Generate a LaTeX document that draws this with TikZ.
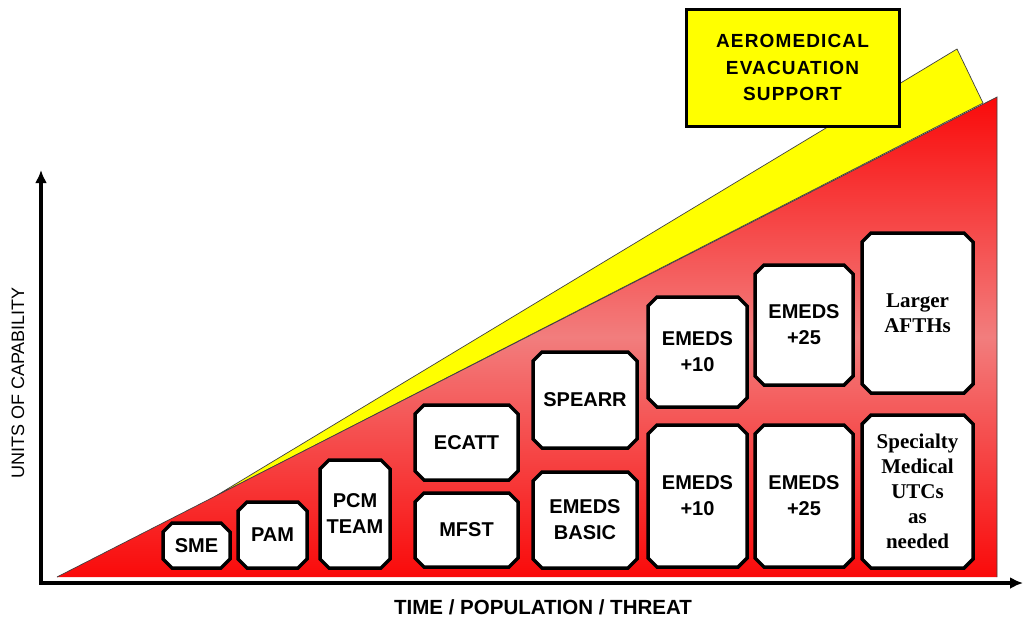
\documentclass[tikz,border=0pt]{standalone}
\usepackage{fontspec}
\setmainfont{Liberation Sans}
\newfontfamily\unitserif{Liberation Serif}
\usetikzlibrary{arrows.meta}

\pgfdeclarelayer{wedges}
\pgfdeclarelayer{plates}
\pgfsetlayers{wedges,plates,main}

% A capability unit: an invisible text node of given extent, with a
% chamfered white plate drawn behind it.
% #1 style, #2 name, #3 x1, #4 y1, #5 x2, #6 y2, #7 text
\newcommand\unitbox[7][unit]{%
  \node[#1, minimum width={#5pt-#3pt}, minimum height={#6pt-#4pt}] (#2)
    at ({(#3+#5)/2},{(#4+#6)/2}) {#7};
  \begin{pgfonlayer}{plates}
    \draw[plate] ([xshift=9pt]#2.north west) -- ([xshift=-9pt]#2.north east)
      -- ([yshift=-9pt]#2.north east) -- ([yshift=9pt]#2.south east)
      -- ([xshift=-9pt]#2.south east) -- ([xshift=9pt]#2.south west)
      -- ([yshift=9pt]#2.south west) -- ([yshift=-9pt]#2.north west) -- cycle;
  \end{pgfonlayer}}

\definecolor{wedgered}{RGB}{250,10,10}
\definecolor{wedgepink}{RGB}{242,125,125}
\definecolor{aeyellow}{RGB}{255,255,0}

\begin{document}
\begin{tikzpicture}[x=1pt,y=-1pt,
  unit/.style={font=\fontsize{20}{26}\selectfont\bfseries, align=center,
    inner sep=0pt, outer sep=0pt},
  serifunit/.style={unit, font=\unitserif\fontsize{21}{25}\selectfont\bfseries},
  plate/.style={draw=black, line width=3.5pt, fill=white, line join=miter},
  axisline/.style={line width=4pt,
    {Latex[length=13pt,width=12pt]}-{Latex[length=13pt,width=12pt]}},
  edge/.style={draw=black!75, line width=0.7pt}]

\useasboundingbox (0,0) rectangle (1024,622);

% growth wedges
\coordinate (start) at (57,577);
\coordinate (redtip) at (997,97);
\coordinate (redfoot) at (997,577);
\coordinate (yelstart) at (214,497);
\coordinate (yeltip) at (957,49);
\coordinate (yelfoot) at (983,103);

\begin{pgfonlayer}{wedges}
  \fill[aeyellow, edge] (yelstart) -- (yeltip) -- (yelfoot) -- cycle;
  \shade[top color=wedgered, bottom color=wedgered, middle color=wedgepink]
    (start) -- (redtip) -- (redfoot) -- cycle;
  \draw[edge] (start) -- (redtip) -- (redfoot);
\end{pgfonlayer}

% axes
\coordinate (origin) at (41,583);
\coordinate (ytop) at (41,170);
\coordinate (xend) at (1023,583);
\draw[axisline] (ytop) -- (origin) -- (xend);

\node[font=\fontsize{20.5}{22}\selectfont\bfseries] (xlabel) at (543,607)
  {TIME / POPULATION / THREAT};
\node[font=\fontsize{18}{20}\selectfont, rotate=90] (ylabel) at (18,383)
  {UNITS OF CAPABILITY};

% aeromedical evacuation banner
\node[fill=aeyellow, draw=black, line width=3pt, minimum width=213pt,
  minimum height=117pt, align=center,
  font=\fontsize{19}{26.5}\selectfont\bfseries\addfontfeature{LetterSpace=6}]
  (aes) at (792.5,67.5)
  {AEROMEDICAL\\EVACUATION\\SUPPORT};

% capability units
\unitbox{sme}{163}{523}{230}{568}{SME}
\unitbox{pam}{238}{502}{307}{568}{PAM}
\unitbox{pcm}{320}{460}{390}{568}{PCM\\TEAM}
\unitbox{ecatt}{415}{405}{518}{480}{ECATT}
\unitbox{mfst}{415}{493}{518}{567}{MFST}
\unitbox{spearr}{533}{352}{637}{448}{SPEARR}
\unitbox{basic}{533}{472}{637}{568}{EMEDS\\BASIC}
\unitbox{tenhi}{648}{297}{747}{407}{EMEDS\\+10}
\unitbox{tenlo}{648}{425}{747}{567}{EMEDS\\+10}
\unitbox{twentyfivehi}{755}{265}{853}{385}{EMEDS\\+25}
\unitbox{twentyfivelo}{755}{425}{853}{567}{EMEDS\\+25}
\unitbox[serifunit]{afth}{862}{233}{973}{393}{Larger\\AFTHs}
\unitbox[serifunit]{specialty}{862}{415}{973}{568}{Specialty\\Medical\\UTCs\\as\\needed}

\end{tikzpicture}
\end{document}
